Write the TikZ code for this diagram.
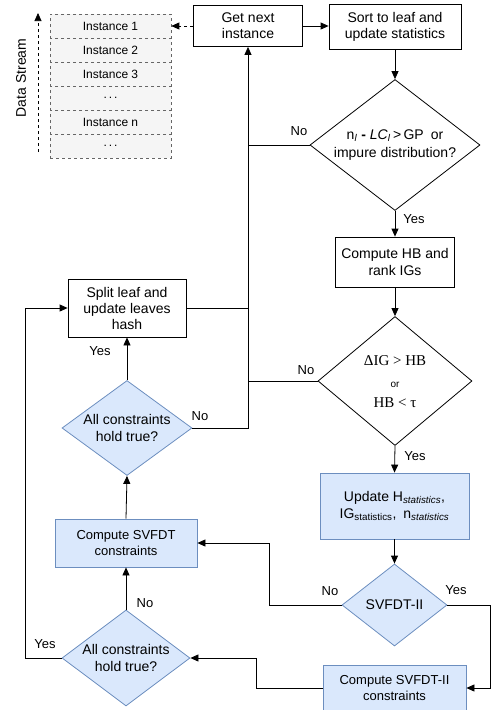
\documentclass[tikz,border=0pt]{standalone}
\usepackage{fontspec}
\setmainfont{Liberation Sans}
\newfontfamily\serifmath{Liberation Serif}
\usetikzlibrary{shapes.geometric,arrows.meta}
\definecolor{bluefill}{HTML}{DAE8FC}
\definecolor{blueline}{HTML}{6C8EBF}
\definecolor{cellfill}{HTML}{F5F5F5}
\definecolor{cellline}{HTML}{666666}
\begin{document}
\begin{tikzpicture}[x=1pt, y=-1pt, line width=0.8pt,
  font=\fontsize{14}{16}\selectfont,
  box/.style={draw, rectangle, align=center, inner sep=2pt},
  bluebox/.style={box, fill=bluefill, draw=blueline},
  dec/.style={draw, diamond, inner sep=0pt},
  bluedec/.style={dec, fill=bluefill, draw=blueline},
  dectext/.style={align=center, inner sep=0pt},
  cell/.style={draw=cellline, fill=cellfill, dashed, line width=0.6pt, minimum width=121pt, minimum height=24pt, inner sep=0pt, font=\fontsize{12}{14}\selectfont},
  arr/.style={-{Triangle[length=8pt,width=7pt]}},
  lbl/.style={inner sep=0pt, font=\fontsize{13}{15}\selectfont}]
\useasboundingbox (0,0) rectangle (492,710);

% data stream
\foreach \i/\txt in {1/Instance 1, 2/Instance 2, 3/Instance 3, 4/{.\,.\,.}, 5/Instance n, 6/{.\,.\,.}}
  \node[cell] (inst\i) at (110.5, 2+24*\i) {\txt};
\coordinate (streambot) at (38,152);
\coordinate (streamtop) at (38,13);
\draw[arr, dashed, line width=0.7pt] (streambot) -- (streamtop);
\node[rotate=90, inner sep=0pt] (stream) at (21,78) {Data Stream};

% main flow
\node[box, minimum width=109pt, minimum height=41pt] (next) at (248,26) {Get next\\instance};
\node[box, minimum width=132pt, minimum height=45pt] (sort) at (395,27) {Sort to leaf and\\update statistics};
\node[dec, minimum width=170pt, minimum height=131pt] (impure) at (395,145) {};
\node[dectext, font=\fontsize{14}{18}\selectfont] (impuretxt) at (impure)
  {n\textsubscript{\textit{l}} \textbf{-} \textit{LC}\textsubscript{\textit{l}}\,>\,GP\enspace or\\impure distribution?};
\node[box, minimum width=119pt, minimum height=50pt, font=\fontsize{14}{17}\selectfont] (hb) at (395,262) {Compute HB and\\rank IGs};
\node[dec, minimum width=154pt, minimum height=129pt] (gain) at (395,381) {};
\node[dectext] (gaintxt) at ([yshift=-1pt]gain)
  {{\serifmath\fontsize{15}{17}\selectfont ΔIG > HB}\\[6pt]{\fontsize{10}{11}\selectfont or}\\[4pt]{\serifmath\fontsize{15}{17}\selectfont HB < τ}};
\node[bluebox, minimum width=149pt, minimum height=66pt, font=\fontsize{14}{17}\selectfont] (upd) at (394.5,506)
  {Update H\textsubscript{\textit{statistics}},\\IG\textsubscript{statistics},\enspace n\textsubscript{\textit{statistics}}};
\node[bluedec, minimum width=105pt, minimum height=82pt] (svii) at (394.5,605) {};
\node[dectext] (sviitxt) at (svii) {SVFDT-II};
\node[bluebox, minimum width=143pt, minimum height=46pt, font=\fontsize{13}{16}\selectfont] (cii) at (394.5,688) {Compute SVFDT-II\\constraints};

% left column
\node[box, minimum width=118pt, minimum height=58pt] (split) at (127,308) {Split leaf and\\update leaves\\hash};
\node[bluedec, minimum width=130pt, minimum height=95pt] (hold1) at (127,428) {};
\node[dectext, font=\fontsize{14}{17}\selectfont] (hold1txt) at (hold1) {All constraints\\hold true?};
\node[bluebox, minimum width=142pt, minimum height=48pt, font=\fontsize{13}{16}\selectfont] (csv) at (126,543) {Compute SVFDT\\constraints};
\node[bluedec, minimum width=128pt, minimum height=96pt] (hold2) at (126,658) {};
\node[dectext, font=\fontsize{14}{17}\selectfont] (hold2txt) at (hold2) {All constraints\\hold true?};

% connectors
\draw[arr, dashed] (next.west) -- (inst1.east);
\draw[arr] (next.east) -- (next.east -| sort.west);
\draw[arr] (sort.south) -- (impure.north);
\draw[arr] (impure.south) -- (hb.north);
\draw[arr] (hb.south) -- (gain.north);
\draw[arr] (gain.south) -- (upd.north);
\draw[arr] (upd.south) -- (svii.north);
\draw[arr] (hold1.east) -- (hold1.east -| next.south) -- (next.south);
\draw (impure.west) -- (impure.west -| next.south);
\draw (gain.west) -- (gain.west -| next.south);
\draw (split.east) -- (split.east -| next.south);
\draw[arr] (svii.west) -- ++(-72,0) |- (csv.east);
\draw[arr] (svii.east) -- ++(43,0) |- (cii.east);
\draw[arr] (cii.west) -- ++(-66,0) |- (hold2.east);
\draw[arr] (hold2.north) -- (csv.south);
\draw[arr] (csv.north) -- (hold1.south);
\draw[arr] (hold1.north) -- (split.south);
\draw[arr] (hold2.west) -- ++(-36,0) |- (split.west);

% labels
\node[lbl] (no1) at (299,131) {No};
\node[lbl] (yes1) at (414,219) {Yes};
\node[lbl] (no2) at (306,370) {No};
\node[lbl] (yes2) at (415,456) {Yes};
\node[lbl] (yes3) at (100,351) {Yes};
\node[lbl] (no3) at (200,416) {No};
\node[lbl] (no4) at (330,591) {No};
\node[lbl] (yes4) at (456,590) {Yes};
\node[lbl] (no5) at (145,603) {No};
\node[lbl] (yes5) at (45,644) {Yes};
\end{tikzpicture}
\end{document}
